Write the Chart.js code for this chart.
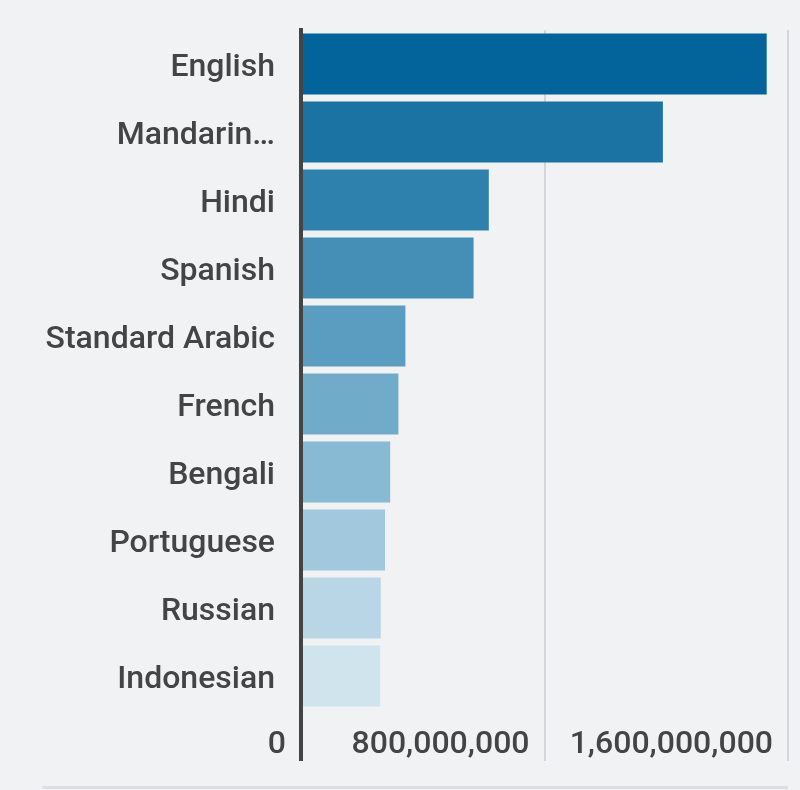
<!DOCTYPE html>
<html>
<head>
<meta charset="utf-8">
<script src="https://cdn.jsdelivr.net/npm/chart.js@4/dist/chart.umd.min.js"></script>
<style>
  html, body { margin: 0; padding: 0; background: #f1f2f4; }
  #wrap { position: relative; width: 800px; height: 790px; }
  #baseLine { position: absolute; left: 42px; top: 786px; width: 746px; height: 0; border-top: 3px solid #dcdee1; }
</style>
</head>
<body>
<div id="wrap">
  <canvas id="langChart" width="800" height="790"></canvas>
  <div id="baseLine"></div>
</div>
<script>
const languages = ['English', 'Mandarin Chinese', 'Hindi', 'Spanish', 'Standard Arabic',
                   'French', 'Bengali', 'Portuguese', 'Russian', 'Indonesian'];
const speakers = [1530000000, 1189000000, 617000000, 567000000, 343000000,
                  320000000, 293000000, 276000000, 262000000, 260000000];
const xTicks = [0, 800000000, 1600000000];

const barColors = ['#02649a', '#1a73a3', '#2e81ad', '#458fb7', '#5b9dc1',
                   '#71abca', '#89bad4', '#a1c8dd', '#b8d6e5', '#d0e4ee'];
const maxLabelChars = 15;

const ctx = document.getElementById('langChart').getContext('2d');

const chart = new Chart(ctx, {
    type: 'bar',
    data: {
        labels: languages,
        datasets: [{
            data: speakers,
            backgroundColor: barColors,
            borderWidth: 0,
            barPercentage: 0.9,
            categoryPercentage: 1
        }]
    },
    options: {
        indexAxis: 'y',
        responsive: false,
        animation: false,
        layout: { padding: { top: 30, right: 12, bottom: 0, left: 0 } },
        plugins: {
            legend: { display: false },
            tooltip: { enabled: false }
        },
        scales: {
            x: {
                min: xTicks[0],
                max: xTicks[xTicks.length - 1],
                afterBuildTicks: scale => {
                    scale.ticks = xTicks.map(v => ({ value: v }));
                },
                afterFit: scale => {
                    scale.height = 80;
                    scale.paddingLeft = 0;
                    scale.paddingRight = 0;
                },
                border: { display: false },
                grid: {
                    color: c => c.tick && c.tick.value === 0 ? '#444' : '#d4d6d9',
                    lineWidth: c => c.tick && c.tick.value === 0 ? 4 : 2,
                    tickLength: 51
                },
                ticks: {
                    align: 'end',
                    labelOffset: -15,
                    padding: -35,
                    maxRotation: 0,
                    color: '#444',
                    font: { family: 'Roboto', size: 32, weight: 500 }
                }
            },
            y: {
                z: 1,
                afterFit: scale => {
                    scale.width = 301;
                    scale.paddingTop = 0;
                    scale.paddingBottom = 0;
                },
                grid: { display: false, drawTicks: false },
                border: { display: true, color: '#444', width: 4 },
                ticks: {
                    padding: 26,
                    labelOffset: 4,
                    color: '#444',
                    font: { family: 'Roboto', size: 32, weight: 500 },
                    callback: function (value) {
                        const label = this.getLabelForValue(value);
                        return label.length > maxLabelChars ? label.split(' ')[0] + '…' : label;
                    }
                }
            }
        }
    }
});
</script>
</body>
</html>
